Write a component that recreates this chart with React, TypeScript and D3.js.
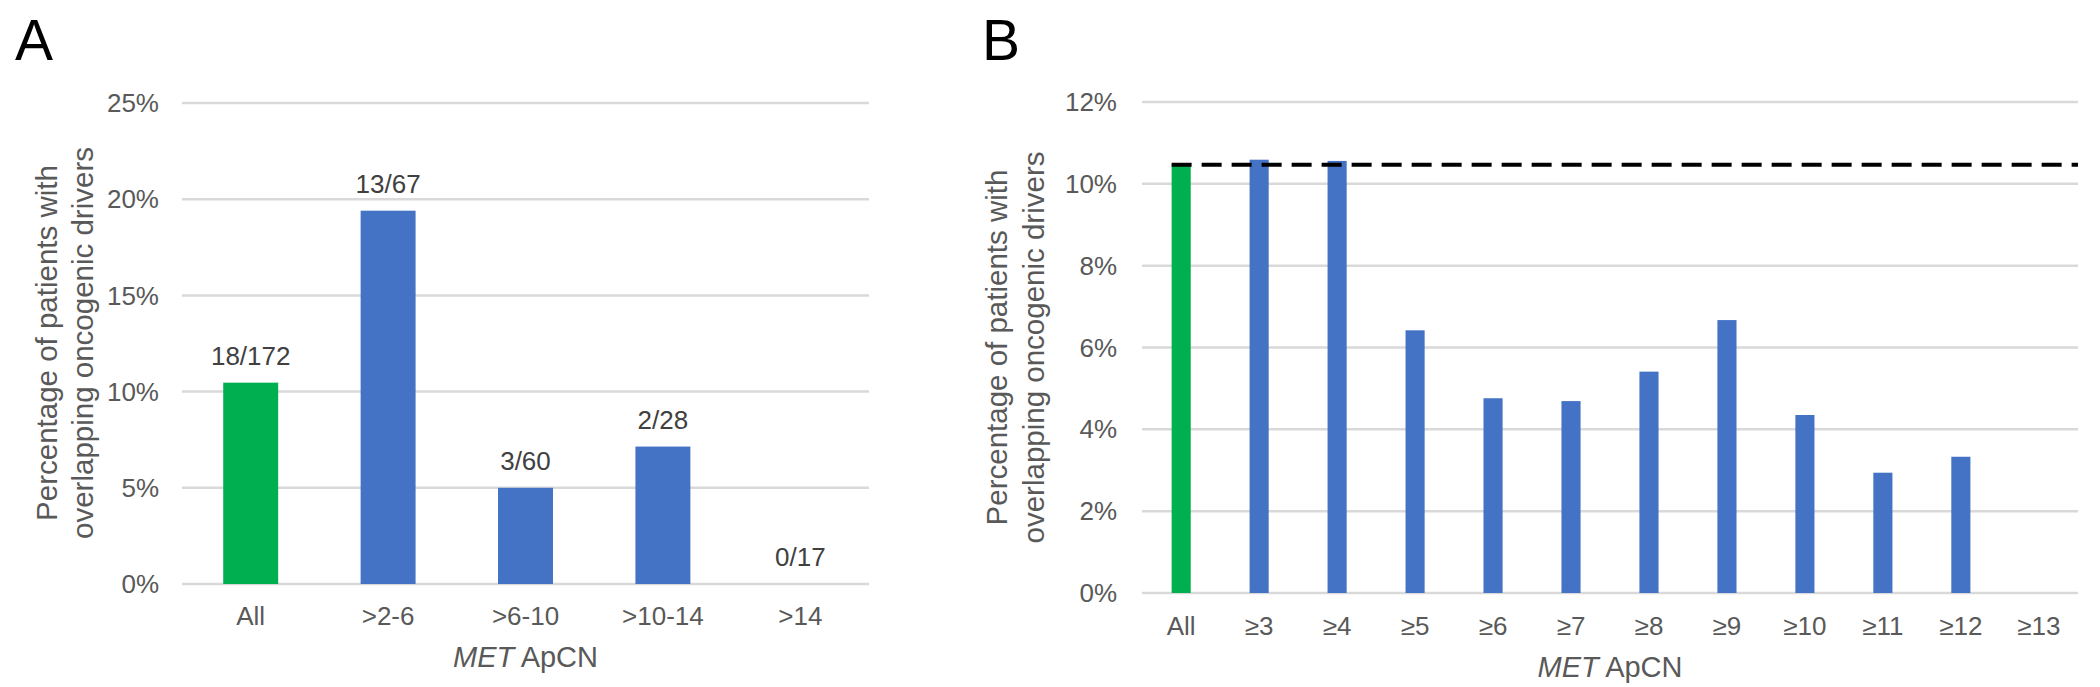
import React from "react";
import * as d3 from "d3";

// Panel A: overlapping drivers by MET ApCN range
const catsA = ["All", ">2-6", ">6-10", ">10-14", ">14"];
const countsA = [18, 13, 3, 2, 0];
const totalsA = [172, 67, 60, 28, 17];
const ticksA = [0, 0.05, 0.1, 0.15, 0.2, 0.25];

// Panel B: overlapping drivers by MET ApCN threshold
const catsB = ["All", "≥3", "≥4", "≥5", "≥6", "≥7", "≥8", "≥9", "≥10", "≥11", "≥12", "≥13"];
const valuesB = [0.1047, 0.1059, 0.1056, 0.0642, 0.0476, 0.0469, 0.0541, 0.0667, 0.0435, 0.0294, 0.0333, 0];
const ticksB = [0, 0.02, 0.04, 0.06, 0.08, 0.1, 0.12];
const referenceB = 18 / 172;

const FONT = "'Liberation Sans', Arial, sans-serif";
const GREEN = "#00b050";
const BLUE = "#4472c4";
const GRID = "#d9d9d9";
const TEXT = "#595959";

const pct = d3.format(".0%");

const YTitle = ({ x1, x2, cy }: { x1: number; x2: number; cy: number }) => (
  <g fontFamily={FONT} fontSize={29.5} fill={TEXT} textAnchor="middle" dominantBaseline="middle">
    <text transform={`translate(${x1},${cy}) rotate(-90)`}>Percentage of patients with</text>
    <text transform={`translate(${x2},${cy}) rotate(-90)`}>overlapping oncogenic drivers</text>
  </g>
);

const XTitle = ({ cx, y }: { cx: number; y: number }) => (
  <text x={cx} y={y} fontFamily={FONT} fontSize={29} fill={TEXT} textAnchor="middle">
    <tspan fontStyle="italic">MET</tspan> ApCN
  </text>
);

export default function App() {
  // panel A scales
  const xA = d3.scaleBand<string>().domain(catsA).range([182, 869]).paddingInner(0.6).paddingOuter(0.3);
  const yA = d3.scaleLinear().domain([0, 0.25]).range([584, 103]);
  const valuesA = countsA.map((c, i) => c / totalsA[i]);

  // panel B scales
  const xB = d3.scaleBand<string>().domain(catsB).range([1142, 2078]).paddingInner(0.755).paddingOuter(0.38);
  const yB = d3.scaleLinear().domain([0, 0.12]).range([593, 102]);

  return (
    <svg width={2100} height={687} style={{ position: "absolute", left: 0, top: 0, background: "#fff" }}>
      <rect width={2100} height={687} fill="#fff" />

      {/* panel letters */}
      <text x={15} y={60} fontFamily={FONT} fontSize={57} fill="#000">A</text>
      <text x={982} y={60} fontFamily={FONT} fontSize={57} fill="#000">B</text>

      {/* ---------- A ---------- */}
      <g>
        {ticksA.map(t => (
          <g key={t}>
            <line x1={182} x2={869} y1={yA(t)} y2={yA(t)} stroke={GRID} strokeWidth={2.5} />
            <text x={159} y={yA(t)} dy="0.35em" textAnchor="end" fontFamily={FONT} fontSize={26} fill={TEXT}>
              {pct(t)}
            </text>
          </g>
        ))}
        {catsA.map((c, i) => (
          <g key={c}>
            <rect
              x={xA(c)!}
              y={yA(valuesA[i])}
              width={xA.bandwidth()}
              height={yA(0) - yA(valuesA[i])}
              fill={i === 0 ? GREEN : BLUE}
            />
            <text
              x={xA(c)! + xA.bandwidth() / 2}
              y={yA(valuesA[i]) - 18}
              textAnchor="middle"
              fontFamily={FONT}
              fontSize={26}
              fill="#404040"
            >
              {`${countsA[i]}/${totalsA[i]}`}
            </text>
            <text
              x={xA(c)! + xA.bandwidth() / 2}
              y={625}
              textAnchor="middle"
              fontFamily={FONT}
              fontSize={26}
              fill={TEXT}
            >
              {c}
            </text>
          </g>
        ))}
        <XTitle cx={525.5} y={667} />
        <YTitle x1={49} x2={85} cy={343} />
      </g>

      {/* ---------- B ---------- */}
      <g>
        {ticksB.map(t => (
          <g key={t}>
            <line x1={1142} x2={2078} y1={yB(t)} y2={yB(t)} stroke={GRID} strokeWidth={2.5} />
            <text x={1117} y={yB(t)} dy="0.35em" textAnchor="end" fontFamily={FONT} fontSize={26} fill={TEXT}>
              {pct(t)}
            </text>
          </g>
        ))}
        {catsB.map((c, i) => (
          <g key={c}>
            <rect
              x={xB(c)!}
              y={yB(valuesB[i])}
              width={xB.bandwidth()}
              height={yB(0) - yB(valuesB[i])}
              fill={i === 0 ? GREEN : BLUE}
            />
            <text
              x={xB(c)! + xB.bandwidth() / 2}
              y={635}
              textAnchor="middle"
              fontFamily={FONT}
              fontSize={26}
              fill={TEXT}
            >
              {c}
            </text>
          </g>
        ))}
        <line
          x1={xB("All")!}
          x2={2078}
          y1={yB(referenceB)}
          y2={yB(referenceB)}
          stroke="#000"
          strokeWidth={4}
          strokeDasharray="20 10"
        />
        <XTitle cx={1610} y={677} />
        <YTitle x1={999} x2={1036} cy={347.5} />
      </g>
    </svg>
  );
}
